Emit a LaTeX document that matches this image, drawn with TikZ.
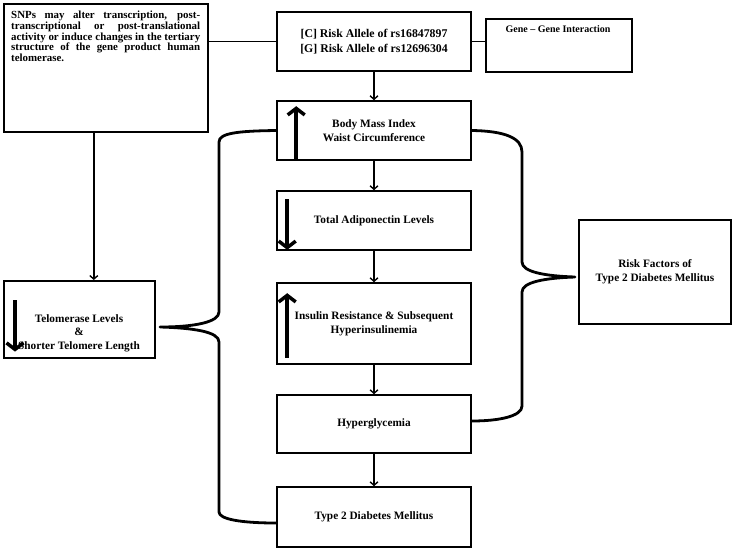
\documentclass[tikz,border=0pt]{standalone}
\usepackage{fontspec}
\setmainfont{Liberation Serif}
\usetikzlibrary{arrows.meta}
\begin{document}
\begin{tikzpicture}[x=1pt,y=-1pt,
  box/.style={draw, line width=1.6pt, rectangle, inner sep=0pt},
  txt/.style={font=\fontsize{11.3}{14}\selectfont\bfseries, align=center},
  conn/.style={line width=1.4pt, -{Straight Barb[length=3.5pt,width=8pt]}},
  thick arrow/.style={line width=3.5pt, -{Straight Barb[length=6.5pt,width=17pt]}},
  brace/.style={line width=2.8pt, line join=round}]
\useasboundingbox (0,0) rectangle (733,550);
\fill[white] (0,0) rectangle (733,550);

\node[box, minimum width=204, minimum height=128, anchor=north west] (snp) at (3,3) {};
\node[anchor=north west, text width=189pt, align=justify, inner sep=0pt,
  font=\fontsize{10.9}{10.9}\selectfont\bfseries] (snptext) at (11,10.5)
  {SNPs may alter transcription, post-\linebreak transcriptional or post-translational\linebreak activity or induce changes in the tertiary\linebreak structure of the gene product human\linebreak telomerase.};

\node[box, txt, font=\fontsize{11.8}{15}\selectfont\bfseries, minimum width=194, minimum height=59] (risk) at (374,41.5)
  {[C] Risk Allele of rs16847897\\[-0.5pt] [G] Risk Allele of rs12696304};
\node[box, minimum width=146, minimum height=53, anchor=north west] (gene) at (485,18) {};
\node[txt, font=\fontsize{10}{12}\selectfont\bfseries] (genetext) at (558,29) {Gene -- Gene Interaction};

\node[box, txt, minimum width=194, minimum height=59] (bmi) at (374,130.5)
  {Body Mass Index\\Waist Circumference};
\node[box, txt, minimum width=194, minimum height=59] (adipo) at (374,220.5)
  {Total Adiponectin Levels};
\node[box, txt, minimum width=194, minimum height=81] (insulin) at (374,323.5)
  {Insulin Resistance \& Subsequent\\Hyperinsulinemia};
\node[box, txt, minimum width=194, minimum height=58] (hyper) at (374,424)
  {Hyperglycemia};
\node[box, txt, minimum width=194, minimum height=60] (t2dm) at (374,517)
  {Type 2 Diabetes Mellitus};

\node[box, minimum width=151, minimum height=77, anchor=north west] (telo) at (3,280) {};
\node[txt, font=\fontsize{11.3}{13.5}\selectfont\bfseries] (telotext) at (79,333) {Telomerase Levels\\\&\\Shorter Telomere Length};

\node[box, txt, minimum width=152, minimum height=104] (riskf) at (655,272)
  {Risk Factors of\\Type 2 Diabetes Mellitus};

% connectors
\draw[line width=1.4pt] (risk.west) -- (risk.west -| snp.east);
\draw[line width=1.4pt] (risk.east) -- (risk.east -| gene.west);
\draw[conn] (risk.south) -- (bmi.north);
\draw[conn] (bmi.south) -- (adipo.north);
\draw[conn] (adipo.south) -- (insulin.north);
\draw[conn] (insulin.south) -- (hyper.north);
\draw[conn] (hyper.south) -- (t2dm.north);
\coordinate (snpout) at ([xshift=-12pt]snp.south);
\draw[conn] (snpout) -- (snpout |- telo.north);

% thick arrows inside boxes
\draw[thick arrow] ([xshift=20pt]bmi.south west) -- ([xshift=20pt,yshift=-6pt]bmi.north west);
\draw[thick arrow] ([xshift=11pt,yshift=-9pt]adipo.north west) -- ([xshift=11pt,yshift=1pt]adipo.south west);
\draw[thick arrow] ([xshift=11pt,yshift=7pt]insulin.south west) -- ([xshift=11pt,yshift=-11pt]insulin.north west);
\draw[thick arrow] ([xshift=12pt,yshift=-20pt]telo.north west) -- ([xshift=12pt,yshift=7pt]telo.south west);

% left brace
\coordinate (ltip) at (160,327);
\coordinate (lbot) at ([yshift=-6pt]t2dm.west);
\draw[brace] (bmi.west) .. controls (238,131) and (219,133) .. (219,142)
  -- (219,312) .. controls (219,322) and (195,327) .. (ltip)
  .. controls (195,328) and (219,332) .. (219,342)
  -- (219,512) .. controls (219,519) and (240,523) .. (lbot);

% right brace
\coordinate (rtip) at (575,277);
\coordinate (rbot) at ([yshift=3pt]hyper.east);
\draw[brace] (bmi.east) .. controls (505,131) and (522,138) .. (522,152)
  -- (522,262) .. controls (522,272) and (545,276) .. (rtip)
  .. controls (545,278) and (522,282) .. (522,292)
  -- (522,406) .. controls (522,416) and (500,421) .. (rbot);
\end{tikzpicture}
\end{document}
